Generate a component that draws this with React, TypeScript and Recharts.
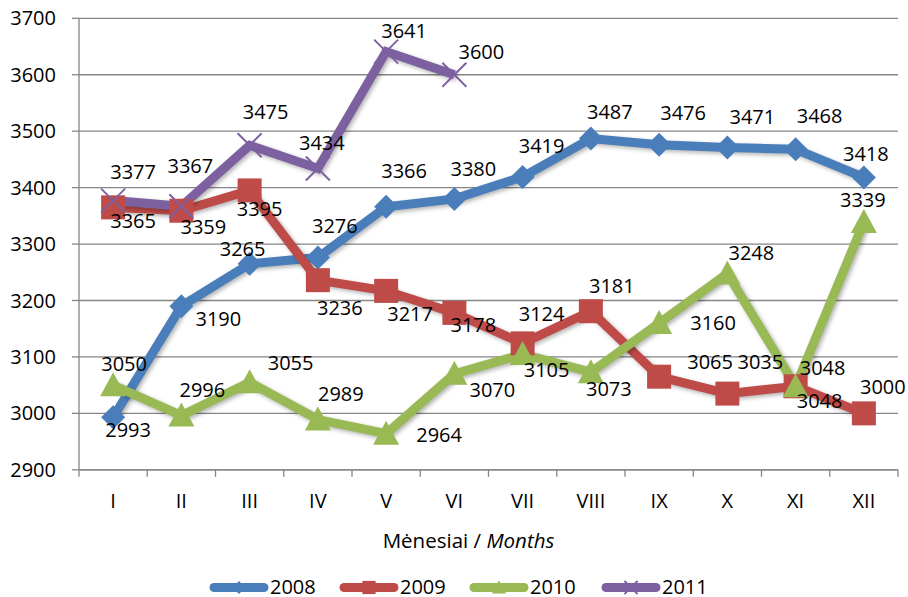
import React from 'react';
import { LineChart, Line, XAxis, YAxis, CartesianGrid, LabelList } from 'recharts';

const categories = ['I', 'II', 'III', 'IV', 'V', 'VI', 'VII', 'VIII', 'IX', 'X', 'XI', 'XII'];
const series2008 = [2993, 3190, 3265, 3276, 3366, 3380, 3419, 3487, 3476, 3471, 3468, 3418];
const series2009 = [3365, 3359, 3395, 3236, 3217, 3178, 3124, 3181, 3065, 3035, 3048, 3000];
const series2010 = [3050, 2996, 3055, 2989, 2964, 3070, 3105, 3073, 3160, 3248, 3048, 3339];
const series2011 = [3377, 3367, 3475, 3434, 3641, 3600];
const yTicks = [2900, 3000, 3100, 3200, 3300, 3400, 3500, 3600, 3700];
const seriesNames = ['2008', '2009', '2010', '2011'];

// label offsets (dx, dy) from each point, in pixels
const off2008: [number, number][] = [[15, 12], [37, 13], [-7, -15], [17, -32], [18, -36], [19, -30], [19, -31], [19, -27], [24, -32], [25, -31], [24, -33], [2, -24]];
const off2009: [number, number][] = [[20, 13], [22, 16], [10, 18], [22, 28], [24, 23], [19, 12], [19, -30], [21, -25], [51, -15], [33, -32], [27, -18], [19, -27]];
const off2010: [number, number][] = [[11, -21], [21, -26], [41, -20], [23, -26], [53, 1], [38, 16], [24, 16], [18, 17], [54, 0], [24, -21], [24, 15], [-1, -22]];
const off2011: [number, number][] = [[20, -29], [9, -40], [16, -33], [4, -26], [18, -21], [27, -23]];

const COLORS = ['#4A7EBB', '#BE4B48', '#98B954', '#7D60A0'];
const FONT = '"Open Sans", sans-serif';
const W = 908;
const H = 597;
const ML = 79;
const MR = 10;
const BW = (W - ML - MR) / categories.length;
const GRID = '#868686';

const data = categories.map((c, i) => ({
  cat: c,
  y2008: series2008[i] ?? null,
  y2009: series2009[i] ?? null,
  y2010: series2010[i] ?? null,
  y2011: series2011[i] ?? null,
}));

function Marker({ kind, cx, cy, color, s = 1 }: { kind: number; cx: number; cy: number; color: string; s?: number }) {
  if (kind === 0) {
    const h = 12 * s;
    return <polygon className="mk" points={`${cx},${cy - h} ${cx + h},${cy} ${cx},${cy + h} ${cx - h},${cy}`} fill={color} />;
  }
  if (kind === 1) {
    const h = 12 * s;
    return <rect className="mk" x={cx - h} y={cy - h} width={2 * h} height={2 * h} fill={color} />;
  }
  if (kind === 2) {
    const w = 13 * s;
    return <polygon className="mk" points={`${cx},${cy - 13 * s} ${cx + w},${cy + 11 * s} ${cx - w},${cy + 11 * s}`} fill={color} />;
  }
  const h = 12 * s;
  return (
    <g className="mk">
      <line x1={cx - h} y1={cy - h} x2={cx + h} y2={cy + h} stroke={color} strokeWidth={2} />
      <line x1={cx - h} y1={cy + h} x2={cx + h} y2={cy - h} stroke={color} strokeWidth={2} />
    </g>
  );
}

const makeDot = (kind: number) => (p: any) => {
  if (p.cx == null || p.cy == null || p.value == null) return <g key={`d${kind}-${p.index}`} />;
  return (
    <g key={`d${kind}-${p.index}`}>
      <Marker kind={kind} cx={p.cx} cy={p.cy} color={COLORS[kind]} />
    </g>
  );
};

const makeLabel = (offs: [number, number][]) => (p: any) => {
  const { x, y, value, index } = p;
  if (value == null || x == null || y == null) return null;
  const o = offs[index] || [0, -25];
  return (
    <text x={x + o[0]} y={y + o[1] + 7.2} textAnchor="middle" fontSize={20} fontFamily={FONT} fill="#000">
      {value}
    </text>
  );
};

const XTick = (props: any) => {
  const { x, y, payload } = props;
  const last = payload.value === categories[categories.length - 1];
  return (
    <g>
      <line x1={x - BW / 2} y1={y} x2={x - BW / 2} y2={y + 7} stroke={GRID} strokeWidth={1.3} />
      {last && <line x1={x + BW / 2} y1={y} x2={x + BW / 2} y2={y + 7} stroke={GRID} strokeWidth={1.3} />}
      <text x={x} y={y + 38.5} textAnchor="middle" fontSize={20} fontFamily={FONT} fill="#000">
        {payload.value}
      </text>
    </g>
  );
};

const AxisTitle = (props: any) => {
  const vb = props.viewBox || { x: ML, y: 470, width: W - ML - MR };
  return (
    <text x={vb.x + vb.width / 2 - 20} y={vb.y + 78.5} textAnchor="middle" fontSize={20.5} fontFamily={FONT} fill="#000">
      Mėnesiai / <tspan fontStyle="italic">Months</tspan>
    </text>
  );
};

const legendX = [210, 340, 470, 602];

export default function App() {
  const keys = ['y2008', 'y2009', 'y2010', 'y2011'];
  const offs = [off2008, off2009, off2010, off2011];
  return (
    <div style={{ position: 'absolute', left: 0, top: 0, width: W, height: H, background: '#fff', fontFamily: FONT }}>
      <style>{`.ser .recharts-line-curve, .ser .mk { filter: drop-shadow(2px 2px 2px rgba(0,0,0,0.3)); }`}</style>
      <LineChart width={W} height={H} data={data} margin={{ top: 18.3, right: MR, bottom: 0, left: 0 }}>
        <CartesianGrid vertical={false} stroke={GRID} strokeWidth={1.3} />
        <XAxis
          dataKey="cat"
          height={127.2}
          tickLine={false}
          tickSize={0}
          tickMargin={0}
          padding={{ left: BW / 2, right: BW / 2 }}
          axisLine={{ stroke: GRID, strokeWidth: 1.3 }}
          tick={<XTick />}
          interval={0}
          label={<AxisTitle />}
        />
        <YAxis
          width={ML}
          domain={[2900, 3700]}
          ticks={yTicks}
          interval={0}
          tickSize={7}
          tickMargin={16}
          axisLine={{ stroke: GRID, strokeWidth: 1.3 }}
          tickLine={{ stroke: GRID, strokeWidth: 1.3 }}
          tick={{ fill: '#000', fontSize: 20, fontFamily: FONT }}
        />
        {keys.map((k, i) => (
          <Line
            key={k}
            className="ser"
            type="linear"
            dataKey={k}
            stroke={COLORS[i]}
            strokeWidth={9}
            dot={makeDot(i)}
            activeDot={false}
            isAnimationActive={false}
            connectNulls={false}
          >
            <LabelList dataKey={k} content={makeLabel(offs[i])} />
          </Line>
        ))}
      </LineChart>
      <svg width={W} height={47} style={{ position: 'absolute', left: 0, top: 550 }}>
        {seriesNames.map((n, i) => {
          const x0 = legendX[i];
          const ly = 37.5;
          return (
            <g key={n}>
              <line x1={x0 + 4} y1={ly} x2={x0 + 54} y2={ly} stroke={COLORS[i]} strokeWidth={9} strokeLinecap="round" />
              <Marker kind={i} cx={x0 + 29} cy={ly} color={COLORS[i]} s={0.55} />
              <text x={x0 + 60} y={44} fontSize={20} fontFamily={FONT} fill="#000">
                {n}
              </text>
            </g>
          );
        })}
      </svg>
    </div>
  );
}
